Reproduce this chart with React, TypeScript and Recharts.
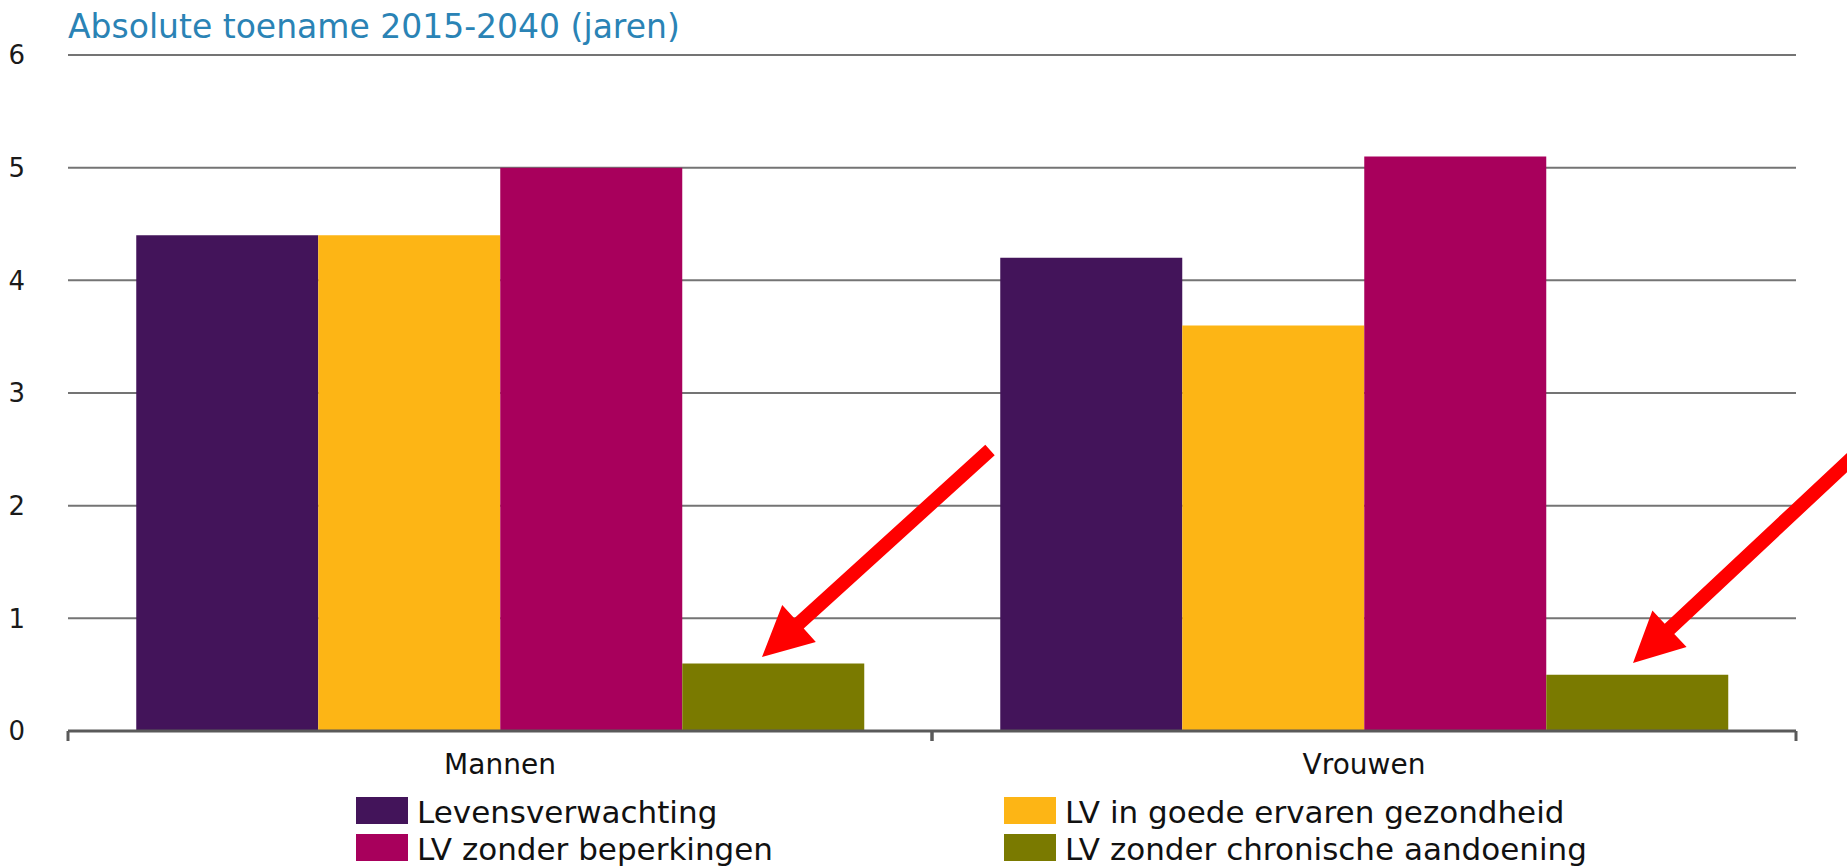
import React from "react"
import { BarChart, Bar, XAxis, YAxis, CartesianGrid } from "recharts"

const categories = ["Mannen", "Vrouwen"]
const levensverwachting = [4.4, 4.2]
const goedeGezondheid = [4.4, 3.6]
const zonderBeperkingen = [5.0, 5.1]
const zonderChronisch = [0.6, 0.5]
const yTicks = [0, 1, 2, 3, 4, 5, 6]

const title = "Absolute toename 2015-2040 (jaren)"

const series = [
  { key: "lv", label: "Levensverwachting", color: "#43145a", values: levensverwachting },
  { key: "goed", label: "LV in goede ervaren gezondheid", color: "#fdb515", values: goedeGezondheid },
  { key: "beperk", label: "LV zonder beperkingen", color: "#a8005c", values: zonderBeperkingen },
  { key: "chron", label: "LV zonder chronische aandoening", color: "#7a7a00", values: zonderChronisch },
]

const data = categories.map((name, i) => {
  const row: Record<string, string | number> = { name }
  series.forEach((s) => {
    row[s.key] = s.values[i]
  })
  return row
})

// red annotation arrows: [tail, tip] in page pixels
const arrows: [number, number][][] = [
  [[990, 450], [762, 657]],
  [[1885, 427], [1633, 663]],
]

const W = 1847
const H = 868
const FONT = "'DejaVu Sans', Verdana, sans-serif"

const arrowPoints = (tail: number[], tip: number[]) => {
  const shaft = 7
  const headLen = 50
  const headHalf = 25
  const dx = tip[0] - tail[0]
  const dy = tip[1] - tail[1]
  const len = Math.hypot(dx, dy)
  const ux = dx / len
  const uy = dy / len
  const px = -uy
  const py = ux
  const bx = tip[0] - ux * headLen
  const by = tip[1] - uy * headLen
  const pts = [
    [tail[0] + px * shaft, tail[1] + py * shaft],
    [bx + px * shaft, by + py * shaft],
    [bx + px * headHalf, by + py * headHalf],
    tip,
    [bx - px * headHalf, by - py * headHalf],
    [bx - px * shaft, by - py * shaft],
    [tail[0] - px * shaft, tail[1] - py * shaft],
  ]
  return pts.map((p) => p.join(",")).join(" ")
}

const CategoryTick = (props: any) => {
  const { x, y, payload } = props
  const half = payload?.offset ?? 0
  return (
    <g>
      <line x1={x - half} x2={x - half} y1={y} y2={y + 10} stroke="#5a5a5a" strokeWidth={3} />
      <line x1={x + half} x2={x + half} y1={y} y2={y + 10} stroke="#5a5a5a" strokeWidth={3} />
      <text x={x} y={y + 43} textAnchor="middle" fontSize={28} fontFamily={FONT} fill="#111">
        {payload.value}
      </text>
    </g>
  )
}

export default function App() {
  return (
    <div
      style={{
        position: "fixed",
        left: 0,
        top: 0,
        width: W,
        height: H,
        overflow: "hidden",
        background: "#fff",
        fontFamily: FONT,
      }}
    >
      <BarChart
        width={W}
        height={H}
        data={data}
        margin={{ top: 55, right: 51, left: 8, bottom: 107 }}
        barCategoryGap="7.9%"
        barGap={0}
      >
        <CartesianGrid vertical={false} stroke="#747474" strokeWidth={2} />
        <YAxis
          domain={[0, 6]}
          ticks={yTicks}
          width={60}
          axisLine={false}
          tickLine={false}
          tickSize={0}
          tickMargin={43}
          tick={{ fontSize: 26, fill: "#1a1a1a", fontFamily: FONT }}
        />
        <XAxis
          dataKey="name"
          height={30}
          axisLine={{ stroke: "#5a5a5a", strokeWidth: 3 }}
          tickLine={false}
          tickSize={0}
          tickMargin={0}
          tick={<CategoryTick />}
          interval={0}
        />
        {series.map((s) => (
          <Bar key={s.key} dataKey={s.key} name={s.label} fill={s.color} isAnimationActive={false} />
        ))}
      </BarChart>

      <svg
        width={W}
        height={H}
        style={{ position: "absolute", left: 0, top: 0, pointerEvents: "none" }}
      >
        <text x={68} y={38} fontSize={33} fontFamily={FONT} fill="#2a83b5">
          {title}
        </text>
        {arrows.map((a, i) => (
          <polygon key={i} points={arrowPoints(a[0], a[1])} fill="#ff0000" />
        ))}
      </svg>

      <div
        style={{
          position: "absolute",
          left: 356,
          top: 792,
          display: "grid",
          gridTemplateColumns: "648px 760px",
        }}
      >
        {series.map((s) => (
          <div key={s.key} style={{ display: "flex", alignItems: "flex-start", height: 37 }}>
            <div style={{ width: 52, height: 27, marginTop: 5, background: s.color, flex: "none" }} />
            <span style={{ marginLeft: 9, fontSize: 31, lineHeight: "40px", color: "#111", whiteSpace: "nowrap" }}>
              {s.label}
            </span>
          </div>
        ))}
      </div>
    </div>
  )
}
